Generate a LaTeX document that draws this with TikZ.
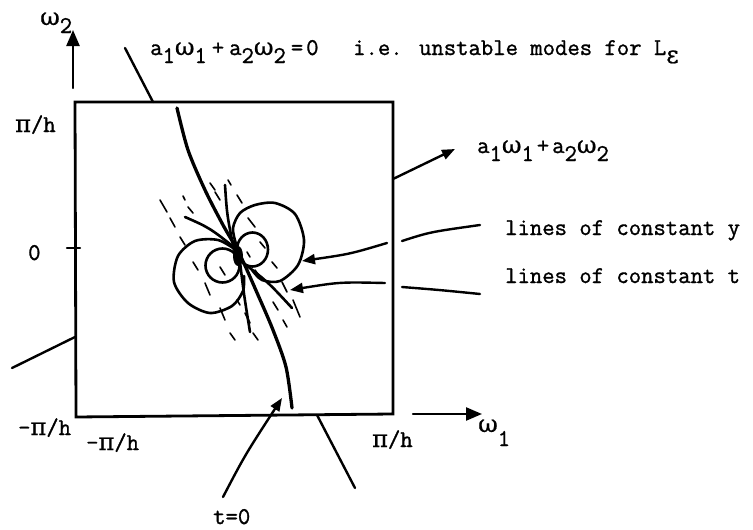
\documentclass[tikz,border=0pt]{standalone}
\usepackage{fontspec}
\newfontfamily\gr[FakeBold=0.8]{DejaVu Serif}
\newfontfamily\tw[FakeBold=1.2]{Latin Modern Mono}
\usetikzlibrary{arrows.meta}
\newcommand{\lo}[1]{\raisebox{-8pt}{#1}}
\newcommand{\om}{{\gr ω}}
\newcommand{\pih}{{\gr π}/h}
\tikzset{
  lbl/.style={font=\tw\fontsize{24}{28}\selectfont, inner sep=0pt, anchor=base west},
  frame/.style={line width=2.8pt},
  ln/.style={line width=2.4pt, line cap=round},
  maincurve/.style={line width=3.3pt, line cap=round},
  loopline/.style={line width=2.6pt, line cap=round},
  dsh/.style={line width=1.6pt, line cap=round},
  arr/.style={-{Triangle[length=16pt,width=13pt]}},
  sarr/.style={-{Triangle[length=13pt,width=10pt]}},
}
\begin{document}
\begin{tikzpicture}[x=1pt,y=-1pt]
\useasboundingbox (0,0) rectangle (753,530);
% frame
\coordinate (tl) at (75,102);
\coordinate (tr) at (393,102);
\coordinate (br) at (393,414);
\coordinate (bl) at (76,417);
\draw[frame] (tl) -- (tr) -- (br) -- (bl) -- cycle;

% axes
\coordinate (w2s) at (73,88);
\coordinate (w2e) at (73,30);
\draw[ln, arr] (w2s) -- (w2e);
\coordinate (w1s) at (413,414);
\coordinate (w1e) at (482,414);
\draw[ln, arr] (w1s) -- (w1e);

% zero tick
\coordinate (t0a) at (67,248);
\coordinate (t0b) at (80,248);
\draw[ln] (t0a) -- (t0b);

% labels
\node[lbl] (w2) at (40,25) {\om\lo{2}};
\node[lbl] (w1) at (478,432) {\om\raisebox{-14pt}{1}};
\node[lbl] (ph) at (15,132) {\pih};
\node[lbl] (zero) at (28,260) {0};
\node[lbl] (mph1) at (18,435) {-\pih};
\node[lbl] (mph2) at (86,450) {-\pih};
\node[lbl] (pph) at (372,447) {\pih};
\node[lbl] (tz) at (213,524) {t=0};
\node[lbl] (eq) at (150,55) {a\lo{1}\om\lo{1}\hspace{5pt}+\hspace{5pt}a\lo{2}\om\lo{2}\hspace{5pt}=\hspace{3pt}0};
\node[lbl] (ie) at (353,55) {i.e. unstable modes for L\lo{{\gr ε}}};
\node[lbl] (sum) at (477,153) {a\lo{1}\om\lo{1}\hspace{3pt}+\hspace{3pt}a\lo{2}\om\lo{2}};
\node[lbl] (cy) at (505,235) {lines of constant y};
\node[lbl] (ct) at (505,283) {lines of constant t};

% pointer lines
\coordinate (topa) at (125,48);
\coordinate (topb) at (153,102);
\draw[ln] (topa) -- (topb);
\coordinate (lefta) at (75,337);
\coordinate (leftb) at (12,368);
\draw[ln] (lefta) -- (leftb);
\coordinate (sa) at (393,179);
\coordinate (sb) at (455,149);
\draw[ln, sarr] (sa) -- (sb);
\coordinate (cya) at (402,241);
\coordinate (cyb) at (480,225);
\draw[ln] (cya) .. controls (430,232) .. (cyb);
\coordinate (cyi) at (387,243);
\coordinate (cyt) at (302,261);
\draw[ln, sarr] (cyi) .. controls (350,254) .. (cyt);
\coordinate (cta) at (402,287);
\coordinate (ctb) at (480,294);
\draw[ln] (cta) .. controls (440,290) .. (ctb);
\coordinate (cti) at (385,283);
\coordinate (ctt) at (290,290);
\draw[ln, sarr] (cti) .. controls (340,282) .. (ctt);
\coordinate (t0s) at (223,497);
\coordinate (t0e) at (282,398);
\draw[ln, sarr] (t0s) .. controls (245,455) .. (t0e);
\coordinate (rba) at (317,415);
\coordinate (rbb) at (355,488);
\draw[ln] (rba) -- (rbb);

% main curve a1w1+a2w2=0
\draw[maincurve] plot[smooth] coordinates {(177,108) (188,150) (205,190) (223,225) (240,255) (258,295) (273,330) (286,367) (292,408)};

% loops
\draw[loopline] plot[smooth] coordinates {(236,244) (233,228) (240,213) (255,205) (275,203) (295,214) (304,240) (298,265) (280,281) (262,280) (252,270)};
\draw[loopline] plot[smooth] coordinates {(236,250) (218,240) (195,241) (178,256) (174,282) (188,303) (210,313) (232,306) (243,291) (244,276)};
\draw[loopline] (252.5,249.5) ellipse [x radius=15.5pt, y radius=17pt];
\draw[loopline] (222.5,265.5) ellipse [x radius=17pt, y radius=17pt];

% fan of lines through centre
\draw[loopline] (185,217) .. controls (210,228) .. (240,252);
\draw[loopline] (225,185) .. controls (227,215) .. (234,250);
\draw[loopline] (240,262) .. controls (244,295) .. (250,332);
\draw[loopline] (242,262) .. controls (268,282) .. (292,308);
\fill (238,256) ellipse [x radius=5pt, y radius=10pt];

% dashes
\foreach \a/\b/\c/\d in {160/200/167/212, 170/218/175/227, 180/237/185/245, 183/196/185/200,
  188/207/193/213, 210/183/215/190, 215/192/220/200, 228/180/231/185, 237/195/242/203,
  248/218/255/227, 193/262/198/270, 205/283/210/295, 220/267/225/275, 220/308/225/320,
  230/333/235/340, 237/300/240/305, 247/252/250/257, 245/313/250/323, 253/333/258/340,
  255/270/260/277, 272/262/277/268, 273/302/278/310, 282/282/287/292, 283/320/287/327,
  293/300/300/317, 260/242/265/248}
  \draw[dsh] (\a,\b) -- (\c,\d);
\end{tikzpicture}
\end{document}
